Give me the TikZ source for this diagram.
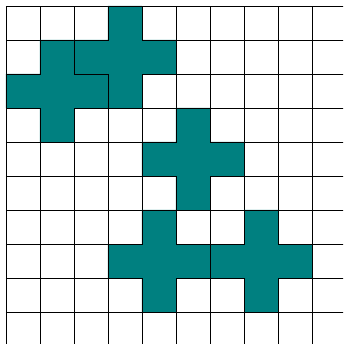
\documentclass[tikz,border=0pt]{standalone}
\usepackage{tikz}
\usepackage{xcolor}
\definecolor{Teal}{HTML}{008080}
\definecolor{Rule}{HTML}{000000}

\begin{document}
\begin{tikzpicture}[
            x=1cm, y=1cm,
            gridline/.style={draw=Rule, line width=0.7pt},
            crossshape/.style={fill=Teal, draw=black, line width=0.8pt, line join=miter}
        ]
            % picture frame, 343x344 px with 34 px cells
            \useasboundingbox (-0.176,0.176) rectangle (9.912,-9.941);
            \clip (-0.176,0.176) rectangle (9.912,-9.941);
            \fill[white] (-0.176,0.176) rectangle (9.912,-9.941);

            \draw[gridline] (0,0) grid (11,-11);

            % plus pentominoes, given by the top-left corner of the middle cell
            \foreach \c/\r in {1/2, 3/1, 5/4, 4/7, 7/7}
                \draw[crossshape, shift={(\c,-\r)}]
                    (0,1) -- (1,1) -- (1,0) -- (2,0) -- (2,-1) -- (1,-1) -- (1,-2)
                    -- (0,-2) -- (0,-1) -- (-1,-1) -- (-1,0) -- (0,0) -- cycle;
        \end{tikzpicture}
\end{document}
